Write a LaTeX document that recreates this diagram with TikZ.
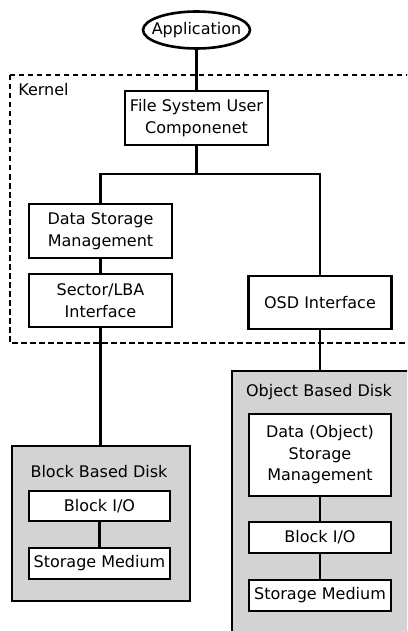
\documentclass[tikz,border=0pt]{standalone}
\usepackage{tikz}
\usetikzlibrary{shapes.geometric}
\usepackage{fontspec}
\setmainfont{DejaVu Sans}
\definecolor{diskgray}{RGB}{211,211,211}

\begin{document}
\begin{tikzpicture}[x=1pt,y=-1pt,line width=2.6pt,
    font=\fontsize{16}{21.5}\selectfont,
    layer/.style={draw,fill=white,rectangle,align=center,inner sep=0pt,minimum width=143pt},
    disk/.style={draw,fill=diskgray,rectangle,inner sep=0pt},
    kernelline/.style={dash pattern=on 5.5pt off 3.5pt}]

        \useasboundingbox (0,0) rectangle (407,631);
        \clip (0,0) rectangle (407,631);

        % disks first, they sit behind the links
        \node[disk,minimum width=178pt,minimum height=155pt] (BBD) at (101,523.5) { };
        \node[disk,minimum width=190pt,minimum height=280pt] (OBD) at (327,511)   { };

        % kernel boundary
        \draw[kernelline] (10,75) rectangle (415,343);
        \node[inner sep=0pt,anchor=west] (KER) at (17,90) {Kernel};

        \node[draw,ellipse,fill=white,inner sep=0pt,minimum width=107pt,minimum height=37pt]
                      (APP) at (196.5,30)  {\makebox[0pt]{Application}};
        \node[layer,minimum height=54pt] (FSU)  at (196.5,118) {File System User\\Componenet};
        \node[layer,minimum height=54pt] (DSM)  at (100.5,231) {Data Storage\\Management};
        \node[layer,minimum height=53pt] (LBA)  at (100.5,300.5) {Sector/LBA\\Interface};
        \node[layer,minimum height=53pt] (OSD)  at (320,302.5) {OSD Interface};

        \node[inner sep=0pt] (BBDtxt) at (99,472) {Block Based Disk};
        \node[layer,minimum width=141pt,minimum height=30pt] (BIO1) at (99.5,506)   {Block I/O};
        \node[layer,minimum width=141pt,minimum height=31pt] (SM1)  at (99.5,563.5) {Storage Medium};

        \node[inner sep=0pt] (OBDtxt) at (319,392) {Object Based Disk};
        \node[layer,minimum width=142pt,minimum height=82pt] (DOSM) at (320,455)   {Data (Object)\\Storage\\Management};
        \node[layer,minimum width=142pt,minimum height=31pt] (BIO2) at (320,537.5) {Block I/O};
        \node[layer,minimum width=142pt,minimum height=31pt] (SM2)  at (320,595.5) {Storage Medium};

        \coordinate (split) at (196.5,174);

        \draw (APP) -- (FSU);
        \draw (FSU) -- (split) -| (DSM.north);
        \draw (split) -| (OSD.north);
        \draw (DSM) -- (LBA);
        \draw (LBA.south) -- (LBA.south |- BBD.north);
        \draw (OSD.south) -- (OSD.south |- OBD.north);
        \draw (BIO1) -- (SM1);
        \draw (DOSM) -- (BIO2) -- (SM2);
      \end{tikzpicture}
\end{document}
